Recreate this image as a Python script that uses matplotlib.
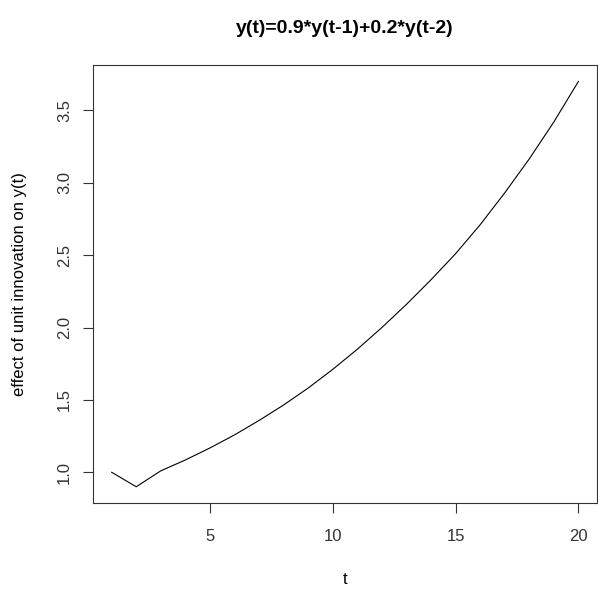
import matplotlib
matplotlib.use("Agg")
from matplotlib import pyplot as plt

plt.rcParams['font.family'] = ['Liberation Sans', 'DejaVu Sans']

t = list(range(1, 21))
effect = [1.0, 0.9, 1.01, 1.085, 1.168, 1.258, 1.358, 1.465, 1.582, 1.711,
          1.85, 2.0, 2.16, 2.33, 2.51, 2.71, 2.93, 3.165, 3.42, 3.70]
xticks = [5, 10, 15, 20]
yticks = [1.0, 1.5, 2.0, 2.5, 3.0, 3.5]

fig = plt.figure(figsize=(5.98, 5.90), dpi=100)
ax = fig.add_axes([0.1555, 0.1475, 0.843, 0.742])
ax.plot(t, effect, color="black", linewidth=0.8)

# R style 4% padding
xr = max(t) - min(t)
yr = max(effect) - min(effect)
ax.set_xlim(min(t) - 0.04 * xr, max(t) + 0.04 * xr)
ax.set_ylim(min(effect) - 0.04 * yr, max(effect) + 0.04 * yr)

ax.set_xticks(xticks)
ax.set_yticks(yticks)
ax.set_yticklabels(["%.1f" % v for v in yticks], rotation=90, va="center")
ax.tick_params(direction="out", length=7, width=0.8, labelsize=12, colors="#333333")
ax.tick_params(axis="x", pad=12)
ax.tick_params(axis="y", pad=8)
for s in ax.spines.values():
    s.set_linewidth(0.8)
    s.set_color("#333333")

ax.set_xlabel("t", fontsize=12, labelpad=20)
ax.set_ylabel("effect of unit innovation on y(t)", fontsize=12, labelpad=22)
ax.set_title("y(t)=0.9*y(t-1)+0.2*y(t-2)", fontsize=14, fontweight="bold", pad=23)

plt.savefig("out.png", dpi=100)
